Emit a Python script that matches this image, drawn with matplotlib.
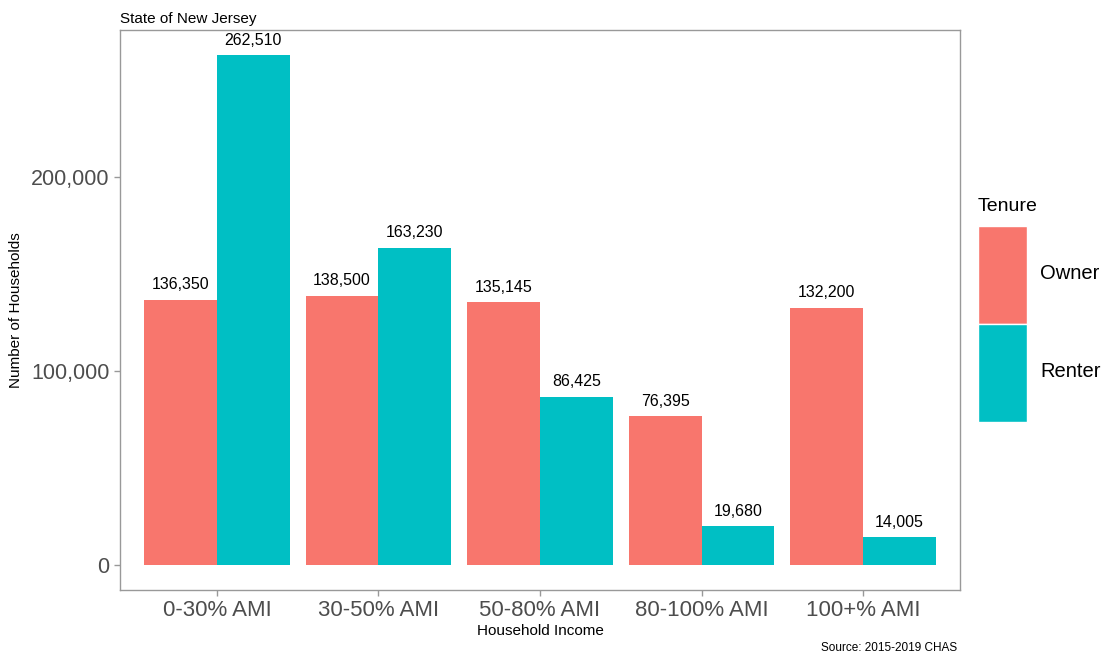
import numpy as np
import matplotlib.pyplot as plt
from matplotlib.patches import Patch

plt.rcParams['font.family'] = ['Liberation Sans', 'DejaVu Sans']

categories = ['0-30% AMI', '30-50% AMI', '50-80% AMI', '80-100% AMI', '100+% AMI']
owner = [136350, 138500, 135145, 76395, 132200]
renter = [262510, 163230, 86425, 19680, 14005]
owner_color = '#F8766D'
renter_color = '#00BFC4'

fig = plt.figure(figsize=(11.02, 6.58), dpi=100)
ax = fig.add_axes([120 / 1102, 1 - 590 / 658, 840 / 1102, 560 / 658])

x = np.arange(1, len(categories) + 1)
w = 0.45
ax.bar(x - w / 2, owner, width=w, color=owner_color)
ax.bar(x + w / 2, renter, width=w, color=renter_color)

for xi, v in zip(x - w / 2, owner):
    ax.text(xi, v + 4000, f'{v:,}', ha='center', va='bottom', fontsize=11.5)
for xi, v in zip(x + w / 2, renter):
    ax.text(xi, v + 4000, f'{v:,}', ha='center', va='bottom', fontsize=11.5)

top = max(renter)
ax.set_ylim(-0.05 * top, 1.05 * top)
ax.set_xlim(0.4, 5.6)
ax.set_xticks(x)
ax.set_xticklabels(categories, fontsize=16, color='#4d4d4d')
ax.set_yticks([0, 100000, 200000])
ax.set_yticklabels(['0', '100,000', '200,000'], fontsize=15.5, color='#4d4d4d')
ax.tick_params(color='#999999', length=4, width=1)
for s in ax.spines.values():
    s.set_color('#999999')
    s.set_linewidth(1)

ax.set_xlabel('Household Income', fontsize=11, labelpad=2)
ax.set_ylabel('Number of Households', fontsize=11, labelpad=6)
ax.set_title('State of New Jersey', loc='left', fontsize=11, pad=5, x=0)

fig.text(957 / 1102, 1 - 648 / 658, 'Source: 2015-2019 CHAS', ha='right', va='center', fontsize=8.5)

handles = [Patch(facecolor=owner_color, edgecolor='white'),
           Patch(facecolor=renter_color, edgecolor='white')]
leg = fig.legend(handles, ['Owner', 'Renter'], title='Tenure', loc='upper left',
                 bbox_to_anchor=(970 / 1102, 1 - 190 / 658), frameon=False,
                 fontsize=14.5, title_fontsize=14, handlelength=2.45, handleheight=7.1,
                 labelspacing=0.0, handletextpad=0.65, borderaxespad=0)
leg._legend_box.align = 'left'
leg._legend_box.sep = 8

fig.savefig('out.png', dpi=100)
